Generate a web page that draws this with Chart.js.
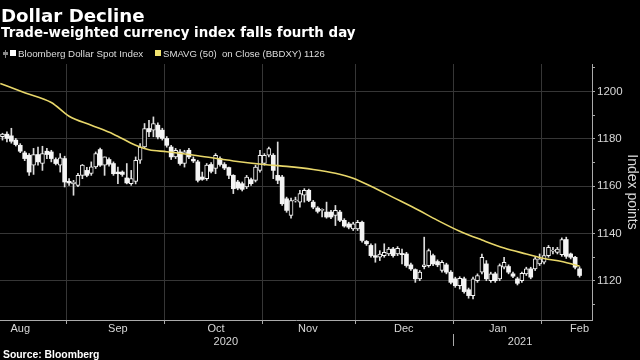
<!DOCTYPE html>
<html><head><meta charset="utf-8">
<script src="https://cdn.jsdelivr.net/npm/chart.js@4.4.1/dist/chart.umd.min.js"></script>
<style>
html,body{margin:0;padding:0;background:#000;width:640px;height:360px;overflow:hidden;}
#wrap{position:relative;width:640px;height:360px;background:#000;}
canvas{position:absolute;left:0;top:0;}
.t{position:absolute;white-space:nowrap;line-height:1;color:#fff;}
.sq{position:absolute;}
</style></head><body>
<div id="wrap">
<canvas id="c" width="640" height="360"></canvas>
<div class="t" style="left:1px;top:4.5px;font:bold 18.2px 'DejaVu Sans';">Dollar Decline</div>
<div class="t" style="left:1px;top:24.8px;font:bold 13.4px 'DejaVu Sans';">Trade-weighted currency index falls fourth day</div>
<div class="sq" style="left:5px;top:50px;width:1px;height:8px;background:#888;"></div>
<div class="sq" style="left:3px;top:52px;width:5px;height:3px;background:#888;"></div>
<div class="sq" style="left:10px;top:50px;width:6px;height:6px;background:#fff;"></div>
<div class="t" style="left:18px;top:48px;font:9.8px 'Liberation Sans';color:#ddd;">Bloomberg Dollar Spot Index</div>
<div class="sq" style="left:155px;top:50px;width:6px;height:6px;background:#f2e470;"></div>
<div class="t" style="left:163px;top:48px;font:9.6px 'Liberation Sans';color:#ddd;">SMAVG (50)&nbsp; on Close (BBDXY) 1126</div>
<div class="t" style="left:3px;top:349px;font:bold 10.4px 'Liberation Sans';color:#fff;">Source: Bloomberg</div>
</div>
<script>
// ---- Data ----
const opens = [
1181.0,1182.0,1181.3,1179.5,1177.3,1174.1,1173.1,1168.9,1173.4,1169.6,
1174.8,1174.5,1171.3,1168.9,1171.7,1162.1,1161.0,1160.4,1164.6,1166.7,
1165.4,1168.2,1175.5,1168.9,1171.3,1169.6,1166.0,1166.0,1163.5,1161.1,
1162.0,1171.0,1176.6,1184.4,1183.7,1185.8,1183.7,1180.2,1176.6,1172.4,
1174.5,1169.6,1175.2,1171.4,1170.3,1163.9,1163.2,1169.2,1167.5,1171.7,
1169.2,1167.9,1164.6,1161.8,1161.1,1159.7,1162.8,1162.5,1166.7,1169.6,
1173.1,1173.1,1164.6,1163.9,1154.7,1147.7,1153.8,1153.3,1156.2,1158.3,
1153.3,1150.8,1149.8,1149.1,1149.1,1147.7,1149.1,1145.6,1144.1,1142.0,
1142.0,1144.8,1136.7,1135.0,1130.7,1130.0,1130.7,1131.4,1133.5,1131.4,
1131.6,1131.4,1126.8,1124.8,1120.9,1126.0,1126.5,1130.7,1128.2,1124.4,
1126.8,1123.7,1120.9,1118.0,1120.9,1116.3,1113.8,1120.1,1123.7,1127.2,
1120.1,1123.0,1120.9,1125.8,1126.1,1123.0,1120.9,1120.1,1123.0,1125.1,
1125.1,1127.2,1127.9,1130.7,1132.6,1132.1,1131.1,1137.5,1131.4,1130.0,
1125.1];
const highs = [
1182.4,1183.0,1184.5,1180.2,1178.0,1174.8,1173.8,1176.0,1176.6,1176.9,
1176.0,1175.2,1172.0,1173.8,1172.7,1163.2,1162.5,1165.5,1169.2,1168.0,
1170.3,1174.5,1176.1,1172.4,1172.0,1170.3,1168.1,1166.5,1169.6,1166.7,
1172.4,1178.0,1186.5,1187.9,1189.3,1186.8,1184.5,1181.0,1177.3,1176.0,
1175.5,1175.2,1176.0,1172.4,1171.0,1166.0,1169.6,1170.0,1173.8,1172.4,
1170.0,1168.1,1164.9,1162.5,1161.8,1164.6,1163.5,1168.9,1175.2,1173.8,
1176.6,1173.8,1178.7,1164.6,1155.4,1155.0,1155.4,1158.3,1159.0,1158.8,
1154.0,1151.4,1150.5,1153.3,1149.8,1151.9,1149.8,1146.3,1144.8,1144.8,
1145.6,1145.3,1137.1,1135.7,1135.7,1132.8,1135.7,1134.2,1134.2,1134.5,
1133.5,1132.1,1127.5,1125.1,1124.4,1138.5,1133.5,1131.4,1128.9,1128.6,
1127.5,1124.4,1121.6,1121.8,1121.6,1117.0,1121.6,1123.0,1131.4,1128.6,
1123.7,1123.7,1127.2,1130.0,1126.8,1123.7,1121.6,1123.7,1125.8,1125.8,
1130.0,1131.4,1134.2,1135.0,1134.2,1134.2,1138.2,1138.5,1131.8,1130.4,
1126.0];
const lows = [
1179.5,1178.7,1178.2,1177.0,1174.2,1170.8,1164.6,1165.0,1168.9,1166.7,
1171.7,1170.3,1169.0,1166.0,1159.7,1160.4,1156.2,1159.8,1163.2,1164.0,
1164.6,1167.5,1168.4,1164.6,1168.5,1164.6,1161.1,1164.2,1161.0,1160.4,
1161.0,1169.6,1176.3,1180.9,1180.9,1180.0,1179.5,1176.5,1171.3,1171.7,
1168.9,1168.1,1171.7,1170.0,1161.8,1162.5,1162.5,1165.6,1165.3,1168.5,
1167.0,1163.2,1156.9,1158.5,1158.0,1159.0,1160.4,1161.8,1166.0,1168.9,
1172.4,1163.2,1161.1,1151.9,1149.0,1146.5,1153.3,1151.2,1153.3,1153.5,
1150.5,1148.7,1147.0,1146.5,1146.3,1143.4,1145.0,1142.7,1142.0,1141.3,
1141.3,1136.4,1135.0,1130.0,1127.9,1128.6,1130.0,1130.7,1130.0,1130.7,
1127.2,1125.8,1124.4,1119.4,1120.1,1125.1,1125.8,1126.5,1126.0,1123.7,
1123.0,1118.7,1117.3,1116.6,1114.8,1112.7,1112.4,1119.4,1123.0,1120.1,
1119.4,1119.4,1120.1,1125.1,1123.0,1121.4,1118.3,1119.4,1122.3,1120.9,
1124.4,1126.5,1127.2,1130.0,1131.4,1131.4,1130.4,1129.5,1129.3,1125.1,
1121.6];
const closes = [
1182.0,1180.2,1179.0,1177.6,1174.8,1171.7,1166.0,1173.4,1170.3,1173.8,
1173.4,1171.7,1169.6,1172.0,1161.8,1161.4,1161.8,1164.6,1168.9,1164.6,
1168.2,1173.8,1168.9,1172.4,1169.3,1165.3,1165.3,1165.0,1161.4,1163.2,
1171.0,1176.6,1184.4,1183.0,1186.5,1180.8,1180.2,1177.3,1172.4,1175.2,
1169.6,1174.5,1172.4,1170.7,1162.5,1162.9,1168.9,1166.3,1173.1,1169.2,
1167.7,1164.6,1159.0,1159.2,1158.7,1163.9,1161.1,1168.1,1173.1,1173.1,
1175.9,1166.7,1162.5,1152.6,1149.8,1154.0,1154.2,1156.9,1158.3,1154.0,
1151.2,1149.4,1150.1,1147.0,1147.0,1149.8,1145.6,1143.2,1142.7,1144.1,
1144.8,1137.1,1135.7,1130.7,1130.0,1131.4,1132.1,1133.5,1130.7,1133.8,
1131.1,1126.5,1125.1,1120.9,1123.7,1126.8,1132.8,1127.2,1126.8,1127.9,
1123.7,1119.4,1118.0,1121.1,1115.5,1113.8,1120.9,1122.3,1130.0,1120.9,
1123.0,1120.1,1126.5,1127.9,1123.7,1122.0,1119.0,1123.2,1125.1,1121.6,
1129.3,1129.3,1130.7,1134.2,1133.0,1133.5,1137.5,1130.4,1130.0,1125.8,
1122.3];
// 50-day moving average at these trading-day positions
const smaX = [-0.5, 5, 11, 15, 20, 25, 30, 33, 37, 44, 52, 60, 64, 70, 75, 79, 83, 88, 93, 98, 103, 108, 113, 118, 122, 126, 130];
const smaY = [1203.4, 1199.5, 1195.4, 1189.6, 1185.8, 1182.0, 1177.3, 1175.4, 1174.6, 1172.9, 1170.7, 1169.0, 1168.4, 1167.1, 1165.5, 1163.4, 1160.0, 1155.3, 1150.6, 1145.6, 1141.0, 1137.3, 1133.9, 1131.4, 1129.5, 1128.2, 1126.3];
// Axis ticks and labels
const monthBounds = [14.5, 36.5, 58.5, 79.5, 101.5, 121.5];
const monthLabelPos = [4, 26, 48.1, 68.8, 90.4, 111.6, 130];
const monthLabels = ['Aug', 'Sep', 'Oct', 'Nov', 'Dec', 'Jan', 'Feb'];
const yearLabelPos = [50.3, 116.6];
const yearLabels = ['2020', '2021'];
const yearBound = 101.5;
const yTicks = [1110, 1120, 1130, 1140, 1150, 1160, 1170, 1180, 1190, 1200, 1210];
const xMin = -0.56, xMax = 132.8;
const yMin = 1103.5, yMax = 1211.65;

const idx = closes.map((_, i) => i);
const wickData = idx.map(i => ({x: i, y: [lows[i], highs[i]]}));
const bodyData = idx.map(i => ({x: i, y: [opens[i], closes[i]]}));
const smaData = smaX.map((x, k) => ({x: x, y: smaY[k]}));
const isUp = i => closes[i] >= opens[i];

const divider = {
  id: 'divider',
  afterDraw(chart) {
    const c = chart.ctx, sx = chart.scales.x;
    const px = Math.round(sx.getPixelForValue(yearBound)) + 0.5;
    c.save();
    c.strokeStyle = '#aaa'; c.lineWidth = 1;
    c.beginPath(); c.moveTo(px, 334); c.lineTo(px, 346); c.stroke();
    c.restore();
  }
};

const baseX = {type: 'linear', position: 'bottom', min: xMin, max: xMax, offset: false};
const LAB = 'Liberation Sans';

new Chart(document.getElementById('c'), {
  type: 'bar',
  data: {datasets: [
    {type: 'line', data: smaData, borderColor: '#e8d76a', borderWidth: 1.6, pointRadius: 0,
     cubicInterpolationMode: 'monotone', order: 0, xAxisID: 'x', yAxisID: 'y'},
    {data: bodyData, xAxisID: 'x', yAxisID: 'y',
     backgroundColor: c => isUp(c.dataIndex) ? '#000' : '#f4f4f4',
     borderColor: '#f4f4f4', borderWidth: c => isUp(c.dataIndex) ? 1 : 0,
     borderSkipped: false, barThickness: 4, minBarLength: 1, grouped: false, order: 1},
    {data: wickData, xAxisID: 'x', yAxisID: 'y', backgroundColor: '#dcdcdc',
     barThickness: 1, grouped: false, order: 2}
  ]},
  options: {
    responsive: false, animation: false, devicePixelRatio: 1,
    layout: {padding: {top: 64, left: 0, right: 0, bottom: 9}},
    plugins: {legend: {display: false}, tooltip: {enabled: false}},
    scales: {
      x: Object.assign({}, baseX, {
        afterBuildTicks: s => { s.ticks = monthBounds.map(v => ({value: v})); },
        afterFit: s => { s.height = 4; },
        ticks: {display: false},
        grid: {offset: false, color: '#363636', lineWidth: 1, drawTicks: true, tickLength: 4, tickColor: '#aaa'},
        border: {display: true, color: '#aaa'}
      }),
      xm: Object.assign({}, baseX, {
        afterBuildTicks: s => { s.ticks = monthLabelPos.map(v => ({value: v})); },
        afterFit: s => { s.height = 13; },
        ticks: {autoSkip: false, maxRotation: 0, color: '#d8d8d8', padding: -2,
                font: {family: LAB, size: 11}, callback: (v, i) => monthLabels[i]},
        grid: {display: false, drawTicks: false}, border: {display: false}
      }),
      xy: Object.assign({}, baseX, {
        afterBuildTicks: s => { s.ticks = yearLabelPos.map(v => ({value: v})); },
        afterFit: s => { s.height = 14; },
        ticks: {autoSkip: false, maxRotation: 0, color: '#d8d8d8', padding: -1.5,
                font: {family: LAB, size: 11}, callback: (v, i) => yearLabels[i]},
        grid: {display: false, drawTicks: false}, border: {display: false}
      }),
      y: {
        position: 'right', min: yMin, max: yMax,
        afterBuildTicks: s => { s.ticks = yTicks.map(v => ({value: v})); },
        afterFit: s => { s.width = 48; },
        ticks: {color: '#d8d8d8', padding: 2, font: {family: LAB, size: 11.5},
                callback: v => (v % 20 === 0 ? String(v) : '')},
        grid: {color: c => (c.tick && c.tick.value % 20 === 0) ? '#363636' : 'rgba(0,0,0,0)',
               drawTicks: true, tickLength: 3, tickColor: '#aaa'},
        border: {display: true, color: '#aaa'},
        title: {display: true, text: 'Index points', color: '#d8d8d8', padding: 0,
                font: {family: LAB, size: 14}}
      }
    }
  },
  plugins: [divider]
});
</script>
</body></html>
